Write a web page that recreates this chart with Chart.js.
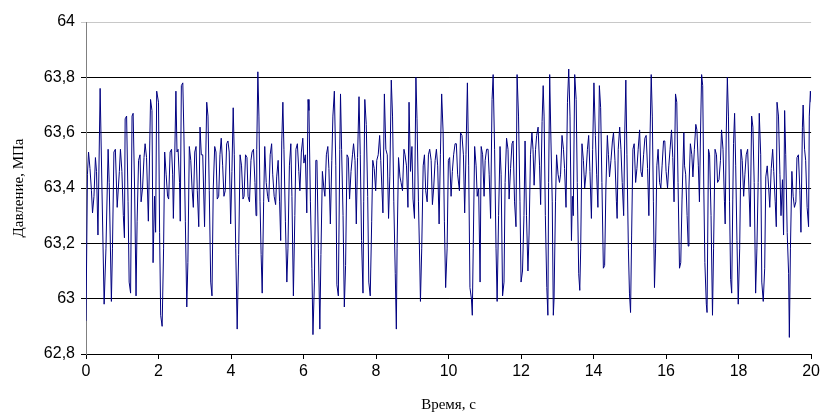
<!DOCTYPE html>
<html><head><meta charset="utf-8">
<script src="https://cdn.jsdelivr.net/npm/chart.js@4/dist/chart.umd.min.js"></script>
<style>html,body{margin:0;padding:0;background:#fff}#wrap{width:823px;height:412px}</style>
</head><body><div id="wrap"><canvas id="c" width="823" height="412"></canvas></div>
<script>
const timeS = [
0.00,0.04,0.07,0.11,0.15,0.18,0.22,0.26,0.29,0.33,0.39,0.44,0.50,0.55,0.61,0.64,0.70,0.73,0.77,0.81,0.86,0.92,0.95,0.99,1.03,1.06,1.08,1.12,1.16,1.19,1.23,1.27,1.30,1.34,1.38,1.41,1.45,1.49,1.52,1.56,1.60,1.63,1.67,1.72,1.76,1.78,1.82,1.85,1.89,1.92,1.95,2.00,
2.03,2.06,2.10,2.14,2.17,2.21,2.25,2.28,2.32,2.36,2.39,2.41,2.45,2.48,2.51,2.54,2.58,2.60,2.63,2.67,2.70,2.74,2.78,2.81,2.85,2.89,2.925,2.96,3.00,3.035,3.07,3.11,3.145,3.18,3.22,3.27,3.33,3.365,3.40,3.44,3.475,3.51,3.55,3.585,3.62,3.66,3.695,3.73,3.77,3.805,3.84,3.88,3.915,3.95,3.99,4.025,4.06,
4.09,4.13,4.17,4.21,4.25,4.29,4.33,4.36,4.40,4.44,4.47,4.51,4.55,4.58,4.62,4.66,4.69,4.71,4.74,4.77,4.80,4.83,4.86,4.90,4.93,4.97,5.01,5.04,5.08,5.12,5.15,5.19,5.23,5.26,5.30,5.34,5.37,5.40,5.43,5.46,5.50,5.54,5.57,5.61,5.65,5.68,5.72,5.76,5.79,5.83,5.87,5.90,5.94,5.98,6.01,6.05,6.09,6.125,
6.15,6.19,6.23,6.26,6.30,6.34,6.37,6.41,6.45,6.48,6.52,6.56,6.59,6.63,6.67,6.70,6.74,6.78,6.81,6.85,6.89,6.92,6.96,7.00,7.02,7.05,7.09,7.125,7.16,7.20,7.235,7.27,7.31,7.35,7.38,7.42,7.455,7.49,7.53,7.565,7.60,7.64,7.66,7.69,7.73,7.77,7.80,7.84,7.88,7.91,7.95,7.99,8.02,8.06,8.10,8.13,8.19,
8.23,8.27,8.31,8.345,8.38,8.42,8.455,8.49,8.53,8.56,8.58,8.62,8.66,8.69,8.73,8.77,8.80,8.84,8.88,8.91,8.95,8.99,9.02,9.06,9.10,9.13,9.17,9.21,9.225,9.26,9.30,9.335,9.37,9.41,9.445,9.48,9.52,9.555,9.59,9.63,9.665,9.70,9.74,9.775,9.81,9.85,9.885,9.92,9.96,9.995,10.03,10.07,10.105,10.14,10.18,10.215,10.25,
10.30,10.33,10.37,10.41,10.445,10.48,10.52,10.555,10.59,10.63,10.655,10.68,10.72,10.76,10.79,10.83,10.87,10.90,10.94,10.98,11.01,11.05,11.09,11.12,11.16,11.20,11.23,11.27,11.31,11.34,11.38,11.42,11.45,11.49,11.53,11.56,11.60,11.64,11.67,11.71,11.75,11.78,11.82,11.86,11.89,11.93,11.97,12.00,12.04,12.08,12.11,12.15,12.19,12.22,12.26,12.30,12.33,
12.36,12.40,12.43,12.47,12.51,12.54,12.58,12.61,12.635,12.67,12.71,12.74,12.76,12.79,12.82,12.86,12.89,12.91,12.95,12.98,13.02,13.06,13.09,13.13,13.17,13.20,13.24,13.28,13.315,13.35,13.39,13.415,13.44,13.48,13.52,13.55,13.59,13.62,13.645,13.68,13.72,13.755,13.79,13.83,13.865,13.90,13.94,13.975,14.01,14.05,14.085,14.12,14.16,14.195,14.23,14.27,14.305,14.34,14.38,
14.41,14.44,14.48,14.52,14.55,14.59,14.63,14.65,14.68,14.72,14.755,14.79,14.83,14.86,14.89,14.92,14.96,14.99,15.02,15.05,15.085,15.12,15.16,15.195,15.23,15.27,15.305,15.34,15.38,15.415,15.45,15.49,15.525,15.56,15.59,15.62,15.65,15.68,15.71,15.745,15.78,15.82,15.855,15.89,15.93,15.965,16.00,16.04,16.075,16.11,16.15,16.185,16.22,16.26,16.295,16.33,16.37,16.405,16.44,
16.49,16.51,16.54,16.58,16.61,16.63,16.67,16.71,16.74,16.78,16.82,16.85,16.89,16.92,16.95,16.98,17.01,17.04,17.07,17.11,17.13,17.17,17.20,17.24,17.28,17.31,17.35,17.39,17.42,17.46,17.50,17.53,17.57,17.61,17.63,17.66,17.69,17.72,17.75,17.78,17.81,17.84,17.86,17.89,17.92,17.955,17.99,18.03,18.065,18.10,18.14,18.175,18.21,18.25,18.285,18.32,18.36,18.395,18.43,18.47,18.505,18.54,
18.57,18.61,18.64,18.68,18.72,18.75,18.79,18.83,18.86,18.90,18.94,18.97,19.01,19.04,19.06,19.10,19.14,19.17,19.21,19.24,19.27,19.30,19.34,19.38,19.40,19.43,19.47,19.505,19.54,19.58,19.61,19.65,19.69,19.72,19.76,19.78,19.82,19.85,19.89,19.93,19.95,19.98,20.00
];
const pressureMPa = [
62.92,63.45,63.53,63.47,63.39,63.31,63.37,63.51,63.46,63.23,63.76,63.40,62.98,63.18,63.54,63.42,62.99,63.18,63.53,63.54,63.33,63.46,63.54,63.46,63.30,63.22,63.65,63.66,63.35,63.06,63.02,63.66,63.67,63.40,63.01,63.28,63.50,63.52,63.35,63.40,63.51,63.56,63.51,63.28,63.57,63.72,63.68,63.13,63.37,63.24,63.75,63.71,
63.24,62.94,62.90,63.18,63.53,63.45,63.37,63.36,63.53,63.54,63.45,63.29,63.53,63.75,63.53,63.54,63.42,63.28,63.77,63.78,63.60,63.28,62.97,63.13,63.55,63.50,63.40,63.33,63.53,63.55,63.39,63.26,63.62,63.52,63.52,63.26,63.71,63.66,63.39,63.06,63.01,63.40,63.55,63.53,63.36,63.37,63.52,63.58,63.48,63.37,63.39,63.56,63.57,63.53,63.27,63.46,63.69,
63.52,63.18,62.89,63.16,63.52,63.48,63.36,63.37,63.52,63.51,63.37,63.35,63.50,63.53,63.54,63.42,63.30,63.54,63.82,63.66,63.35,63.16,63.02,63.35,63.55,63.42,63.37,63.35,63.52,63.56,63.45,63.37,63.34,63.44,63.50,63.35,63.21,63.57,63.71,63.54,63.28,63.06,63.18,63.48,63.56,63.37,63.01,63.30,63.54,63.56,63.46,63.39,63.53,63.58,63.49,63.52,63.31,63.72,
63.68,63.35,63.11,62.87,63.06,63.50,63.50,63.18,62.89,63.16,63.46,63.40,63.37,63.52,63.55,63.47,63.27,63.50,63.66,63.75,63.48,63.05,63.01,63.54,63.74,63.54,63.30,62.97,63.12,63.52,63.51,63.36,63.46,63.52,63.56,63.50,63.27,63.51,63.73,63.52,63.21,63.02,63.35,63.72,63.63,63.37,63.06,63.01,63.28,63.50,63.47,63.39,63.50,63.52,63.59,63.50,63.31,
63.74,63.54,63.52,63.29,63.44,63.79,63.66,63.35,63.09,62.89,63.18,63.51,63.44,63.42,63.39,63.54,63.52,63.48,63.33,63.71,63.46,63.55,63.36,63.29,63.80,63.65,63.35,63.10,62.99,63.18,63.48,63.52,63.39,63.35,63.52,63.54,63.50,63.34,63.40,63.50,63.54,63.48,63.27,63.52,63.74,63.60,63.28,63.04,63.18,63.50,63.51,63.37,63.46,63.52,63.56,63.56,63.45,
63.39,63.60,63.59,63.52,63.31,63.52,63.78,63.48,63.04,63.00,62.94,63.18,63.55,63.48,63.37,63.40,63.06,63.55,63.52,63.37,63.50,63.54,63.54,63.45,63.29,63.72,63.81,63.54,63.18,62.99,63.30,63.55,63.45,63.01,63.06,63.42,63.58,63.54,63.36,63.47,63.56,63.57,63.35,63.26,63.81,63.66,63.35,63.06,63.10,63.30,63.57,63.30,63.10,63.23,63.52,63.60,63.54,
63.41,63.54,63.59,63.62,63.48,63.34,63.64,63.77,63.66,63.30,63.04,62.94,63.42,63.81,63.60,63.35,62.94,63.00,63.35,63.52,63.45,63.42,63.45,63.59,63.54,63.47,63.33,63.71,63.83,63.66,63.21,63.37,63.30,63.81,63.72,63.42,63.09,63.03,63.18,63.56,63.50,63.40,63.45,63.54,63.59,63.46,63.29,63.54,63.78,63.59,63.45,63.33,63.77,63.69,63.42,63.11,63.12,63.40,63.59,
63.52,63.44,63.50,63.57,63.60,63.50,63.35,63.29,63.54,63.62,63.54,63.42,63.30,63.60,63.79,63.52,63.18,63.02,62.95,63.23,63.54,63.56,63.42,63.47,63.54,63.61,63.46,63.44,63.52,63.58,63.59,63.47,63.30,63.60,63.81,63.66,63.35,63.04,63.18,63.48,63.54,63.42,63.40,63.48,63.57,63.57,63.46,63.40,63.48,63.54,63.61,63.51,63.35,63.74,63.71,63.42,63.11,63.13,63.36,
63.60,63.48,63.45,63.30,63.19,63.40,63.56,63.52,63.44,63.54,63.63,63.61,63.48,63.35,63.60,63.81,63.77,63.40,63.13,62.98,62.95,63.54,63.52,63.30,62.94,63.18,63.54,63.52,63.42,63.43,63.50,63.61,63.54,63.35,63.27,63.60,63.80,63.66,63.35,63.07,63.02,63.36,63.56,63.67,63.48,63.21,62.98,63.18,63.54,63.50,63.37,63.45,63.52,63.54,63.40,63.26,63.66,63.62,63.42,63.02,63.18,63.42,
63.67,63.52,63.06,62.99,63.11,63.44,63.48,63.40,63.33,63.47,63.54,63.46,63.35,63.26,63.71,63.66,63.45,63.30,63.43,63.23,63.68,63.52,63.24,63.09,62.86,63.18,63.46,63.37,63.33,63.35,63.51,63.52,63.39,63.24,63.62,63.70,63.54,63.50,63.33,63.26,63.66,63.75,63.71
];
const xTickValues = [0,2,4,6,8,10,12,14,16,18,20];
const yTickValues = [62.8,63,63.2,63.4,63.6,63.8,64];
const xTitle = 'Время, с';
const yTitle = 'Давление, МПа';

const tickFont = {family:"'Liberation Sans Narrow','Liberation Sans',Arial,sans-serif", size:16};
const titleFont = {family:"'Liberation Serif','Times New Roman',serif", size:15};
const fmt = v => String(Number(v.toFixed(1))).replace('.', ',');

new Chart(document.getElementById('c').getContext('2d'), {
  type: 'line',
  data: { datasets: [{
    data: timeS.map((t, i) => ({x: t, y: pressureMPa[i]})),
    borderColor: '#000080', borderWidth: 1, pointRadius: 0, tension: 0, fill: false
  }]},
  options: {
    responsive: false, animation: false, devicePixelRatio: 1,
    layout: {padding: {left: 0, right: 10, top: 22, bottom: 0}},
    plugins: {legend: {display: false}, tooltip: {enabled: false}},
    scales: {
      x: {
        type: 'linear', min: 0, max: 20,
        afterBuildTicks: s => { s.ticks = xTickValues.map(v => ({value: v})); },
        afterFit: s => { s.height = 58; },
        ticks: {font: tickFont, color: '#000', padding: 3, maxRotation: 0, autoSkip: false, callback: v => fmt(v)},
        grid: {display: true, drawOnChartArea: false, drawTicks: true, tickLength: 5, color: '#000', lineWidth: 1},
        border: {color: '#000', width: 1},
        title: {display: true, text: xTitle, font: titleFont, color: '#000', padding: {top: 0, bottom: -2}}
      },
      y: {
        type: 'linear', min: 62.8, max: 64,
        afterBuildTicks: s => { s.ticks = yTickValues.map(v => ({value: v})); },
        afterFit: s => { s.width = 86; },
        ticks: {font: tickFont, color: '#000', padding: 6, autoSkip: false, callback: v => fmt(v)},
        grid: {display: true, drawTicks: true, tickLength: 5, lineWidth: 1,
               color: c => (c.tick && Math.abs(c.tick.value - 64) < 1e-6) ? '#c8c8c8' : '#000'},
        border: {color: '#808080', width: 1},
        title: {display: true, text: yTitle, font: titleFont, color: '#000', padding: {top: 10, bottom: 0}}
      }
    }
  }
});
</script>
</body></html>
